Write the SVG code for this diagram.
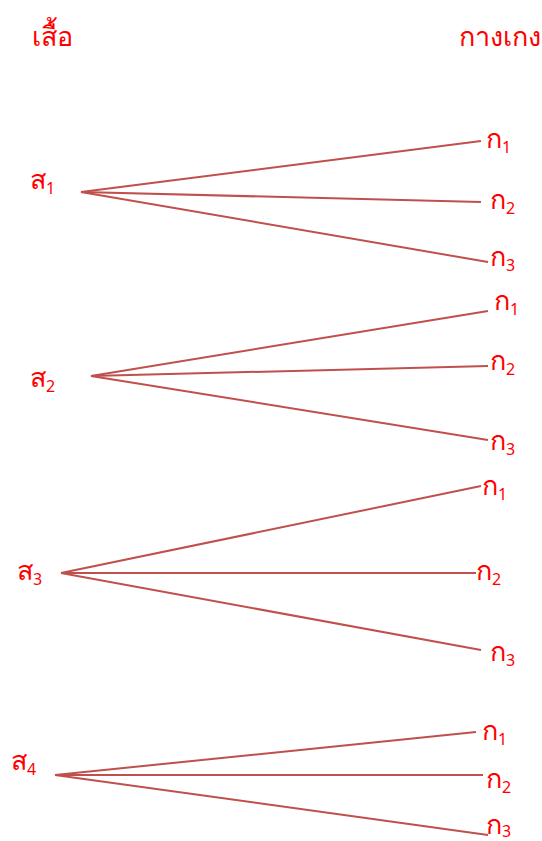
<svg xmlns="http://www.w3.org/2000/svg" width="542" height="841" viewBox="0 0 542 841">
<style>
text{font-family:"Noto Sans","DejaVu Sans",sans-serif;fill:#FF0000;font-size:27px}
.s{font-size:16px}
line{stroke:#C0504D;stroke-width:2}
</style>
<rect width="542" height="841" fill="#fff"/>
<g id="header">
<text x="32" y="46">เสื้อ</text>
<text x="459" y="46">กางเกง</text>
</g>
<g id="connectors">
<line x1="81" y1="192" x2="481" y2="141"/>
<line x1="81" y1="192" x2="481" y2="202"/>
<line x1="81" y1="192" x2="488" y2="262"/>
<line x1="91" y1="376" x2="488" y2="311"/>
<line x1="91" y1="376" x2="488" y2="366"/>
<line x1="91" y1="376" x2="488" y2="440"/>
<line x1="61" y1="573" x2="481" y2="486"/>
<line x1="61" y1="573" x2="476" y2="573"/>
<line x1="61" y1="573" x2="481" y2="650"/>
<line x1="55" y1="775" x2="476" y2="732"/>
<line x1="55" y1="775" x2="483" y2="775"/>
<line x1="55" y1="775" x2="488" y2="835"/>
</g>
<g id="s1"><text x="30" y="189">ส<tspan class="s" dy="5">1</tspan></text></g>
<g id="s2"><text x="30" y="387">ส<tspan class="s" dy="5">2</tspan></text></g>
<g id="s3"><text x="17" y="580">ส<tspan class="s" dy="5">3</tspan></text></g>
<g id="s4"><text x="11" y="770">ส<tspan class="s" dy="5">4</tspan></text></g>
<g id="g1a"><text x="486" y="148">ก<tspan class="s" dy="5">1</tspan></text></g>
<g id="g1b"><text x="490" y="209">ก<tspan class="s" dy="5">2</tspan></text></g>
<g id="g1c"><text x="490" y="266">ก<tspan class="s" dy="5">3</tspan></text></g>
<g id="g2a"><text x="494" y="310">ก<tspan class="s" dy="5">1</tspan></text></g>
<g id="g2b"><text x="490" y="370">ก<tspan class="s" dy="5">2</tspan></text></g>
<g id="g2c"><text x="490" y="450">ก<tspan class="s" dy="5">3</tspan></text></g>
<g id="g3a"><text x="482" y="495">ก<tspan class="s" dy="5">1</tspan></text></g>
<g id="g3b"><text x="476" y="580">ก<tspan class="s" dy="5">2</tspan></text></g>
<g id="g3c"><text x="490" y="661">ก<tspan class="s" dy="5">3</tspan></text></g>
<g id="g4a"><text x="482" y="740">ก<tspan class="s" dy="5">1</tspan></text></g>
<g id="g4b"><text x="486" y="788">ก<tspan class="s" dy="5">2</tspan></text></g>
<g id="g4c"><text x="486" y="834">ก<tspan class="s" dy="3">3</tspan></text></g>
</svg>
